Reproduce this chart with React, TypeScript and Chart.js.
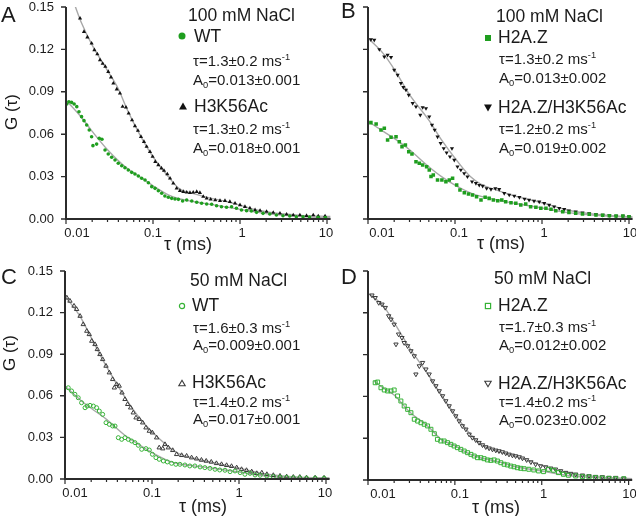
import React, { useEffect, useRef } from "react";
import { Chart, registerables } from "chart.js";

Chart.register(...registerables);

type Pt = [number, number];

const FONT = '"Liberation Sans", Arial, Helvetica, sans-serif';
const TEXT = "#1b1b1b";
const AXIS = "#2b2b2b";
const FIT = "#a8a8a8";
const GREEN = "#1f9e1f";
const GREEN_OPEN = "#36b236";
const BLACK = "#111111";
const DARK_OPEN = "#3a3a3a";

// ---- axes / ticks ----
const X_DECADES = [0.01, 0.1, 1, 10];
const X_DECADE_LABELS = ["0.01", "0.1", "1", "10"];
const X_MINOR_STEPS = [2, 3, 4, 5, 6, 7, 8, 9];
const Y_TICKS = [0, 0.03, 0.06, 0.09, 0.12, 0.15];
const Y_TICK_LABELS = ["0.00", "0.03", "0.06", "0.09", "0.12", "0.15"];
const X_MIN = 0.01;
const X_MAX = 11;
const Y_MIN = 0;
const Y_MAX = 0.15;

// ---- text ----
const PANEL_LETTERS = ["A", "B", "C", "D"];
const PANEL_TITLES = ["100 mM NaCl", "100 mM NaCl", "50 mM NaCl", "50 mM NaCl"];
const SERIES_NAMES = [
  ["WT", "H3K56Ac"],
  ["H2A.Z", "H2A.Z/H3K56Ac"],
  ["WT", "H3K56Ac"],
  ["H2A.Z", "H2A.Z/H3K56Ac"],
];
const TAU_TEXT = [
  ["1.3±0.2", "1.3±0.2"],
  ["1.3±0.2", "1.2±0.2"],
  ["1.6±0.3", "1.4±0.2"],
  ["1.7±0.3", "1.4±0.2"],
];
const A0_TEXT = [
  ["0.013±0.001", "0.018±0.001"],
  ["0.013±0.002", "0.019±0.002"],
  ["0.009±0.001", "0.017±0.001"],
  ["0.012±0.002", "0.023±0.002"],
];
const X_TITLE = "τ (ms)";
const Y_TITLE = "G (τ)";

// ---- data: [tau (ms), G(tau)] ----
const A_WT: Pt[] = [
  [0.0102, 0.0814], [0.0108, 0.083], [0.0116, 0.0825], [0.0124, 0.0814], [0.0133, 0.0795],
  [0.0141, 0.0759], [0.0151, 0.0724], [0.0161, 0.0696], [0.0173, 0.0665], [0.0185, 0.063],
  [0.0197, 0.0582], [0.0204, 0.0519], [0.0225, 0.053], [0.0241, 0.0571], [0.0259, 0.0564],
  [0.0281, 0.0488], [0.0306, 0.046], [0.0335, 0.0437], [0.0366, 0.0417], [0.0399, 0.0394],
  [0.0437, 0.0377], [0.0476, 0.0363], [0.052, 0.0347], [0.0569, 0.033], [0.062, 0.0318],
  [0.0678, 0.0304], [0.0741, 0.0288], [0.081, 0.0276], [0.0885, 0.0257], [0.0967, 0.0229],
  [0.1056, 0.0217], [0.1152, 0.02], [0.126, 0.0182], [0.137, 0.0163], [0.15, 0.0154],
  [0.164, 0.0146], [0.179, 0.0142], [0.196, 0.0139], [0.219, 0.0127], [0.244, 0.0134],
  [0.279, 0.0127], [0.318, 0.0118], [0.362, 0.0111], [0.414, 0.0106], [0.472, 0.0104],
  [0.538, 0.0094], [0.612, 0.0087], [0.7, 0.0083], [0.8, 0.0087], [0.91, 0.0076],
  [1.04, 0.0064], [1.19, 0.0059], [1.35, 0.0057], [1.55, 0.0047], [1.84, 0.004],
  [2.2, 0.0035], [2.62, 0.0028], [3.12, 0.0023], [3.73, 0.0021], [4.44, 0.0016],
  [5.3, 0.0016], [6.3, 0.0014], [7.9, 0.0012], [9.6, 0.001],
];
const A_H3K56AC: Pt[] = [
  [0.0145, 0.142], [0.0161, 0.1325], [0.0176, 0.1286], [0.0197, 0.1243], [0.0212, 0.1196],
  [0.0229, 0.1167], [0.0246, 0.1125], [0.0264, 0.11], [0.0283, 0.1078], [0.0306, 0.1042],
  [0.0329, 0.1003], [0.035, 0.096], [0.0383, 0.0918], [0.0417, 0.0889], [0.0447, 0.0795],
  [0.0489, 0.079], [0.0525, 0.0748], [0.0574, 0.07], [0.062, 0.0658], [0.0671, 0.0625],
  [0.0727, 0.0582], [0.0787, 0.0547], [0.0845, 0.0512], [0.0923, 0.0476], [0.099, 0.0441],
  [0.1063, 0.0405], [0.1152, 0.0382], [0.125, 0.0359], [0.1338, 0.0342], [0.146, 0.0318],
  [0.157, 0.0288], [0.171, 0.0252], [0.187, 0.0217], [0.204, 0.02], [0.223, 0.0193],
  [0.244, 0.0189], [0.266, 0.0186], [0.29, 0.0189], [0.318, 0.0193], [0.346, 0.0186],
  [0.378, 0.0158], [0.414, 0.0146], [0.46, 0.0139], [0.519, 0.0134], [0.589, 0.0129],
  [0.672, 0.0129], [0.765, 0.0122], [0.877, 0.0111], [1.0, 0.0099], [1.14, 0.0087],
  [1.3, 0.0076], [1.49, 0.0064], [1.7, 0.0059], [2.02, 0.0052], [2.41, 0.0045],
  [2.88, 0.004], [3.43, 0.0033], [4.09, 0.0028], [4.88, 0.0028], [5.82, 0.0023],
  [6.95, 0.0028], [7.93, 0.0021], [9.5, 0.002],
];
const A_WT_FIT: Pt[] = [
  [0.01, 0.084], [0.015, 0.072], [0.02, 0.062], [0.03, 0.049], [0.05, 0.036], [0.07, 0.03],
  [0.1, 0.0235], [0.15, 0.017], [0.2, 0.0143], [0.3, 0.0122], [0.5, 0.01], [1, 0.0068],
  [2, 0.0038], [5, 0.0017], [11, 0.0009],
];
const A_H3K56AC_FIT: Pt[] = [
  [0.0125, 0.152], [0.015, 0.139], [0.02, 0.123], [0.03, 0.105], [0.04, 0.092], [0.05, 0.078],
  [0.07, 0.06], [0.1, 0.044], [0.15, 0.03], [0.2, 0.0215], [0.3, 0.0178], [0.5, 0.0142],
  [0.7, 0.0124], [1, 0.0098], [1.5, 0.0066], [2, 0.0052], [3, 0.0037], [5, 0.0026], [11, 0.0018],
];

const B_H2AZ: Pt[] = [
  [0.0108, 0.0682], [0.0124, 0.0672], [0.0141, 0.063], [0.0154, 0.0642], [0.0168, 0.0559],
  [0.0184, 0.0578], [0.021, 0.0582], [0.0229, 0.0547], [0.0246, 0.0512], [0.0269, 0.0524],
  [0.0294, 0.0476], [0.032, 0.046], [0.0356, 0.0405], [0.0389, 0.0394], [0.0425, 0.0382],
  [0.0472, 0.037], [0.0506, 0.0347], [0.053, 0.03], [0.0563, 0.0311], [0.063, 0.0276],
  [0.0707, 0.0276], [0.0786, 0.0264], [0.086, 0.0276], [0.0938, 0.0288], [0.1045, 0.024],
  [0.114, 0.0205], [0.128, 0.0186], [0.143, 0.0177], [0.159, 0.017], [0.177, 0.0158],
  [0.199, 0.0134], [0.222, 0.0154], [0.247, 0.0146], [0.276, 0.0134], [0.31, 0.0129],
  [0.345, 0.0134], [0.382, 0.0122], [0.44, 0.0115], [0.5, 0.0111], [0.57, 0.0099],
  [0.65, 0.0106], [0.74, 0.0087], [0.85, 0.0083], [0.97, 0.0076], [1.11, 0.0076],
  [1.27, 0.0069], [1.44, 0.0059], [1.73, 0.0052], [2.04, 0.0047], [2.44, 0.004],
  [2.92, 0.0035], [3.49, 0.0033], [4.17, 0.0028], [4.98, 0.0026], [5.95, 0.0023],
  [7.1, 0.0021], [8.5, 0.0021], [10, 0.0016],
];
const B_H2AZ_H3K56AC: Pt[] = [
  [0.0108, 0.127], [0.0118, 0.1266], [0.0135, 0.12], [0.0154, 0.1148], [0.0168, 0.116],
  [0.0184, 0.1144], [0.02, 0.1054], [0.0219, 0.1019], [0.0239, 0.096], [0.0255, 0.0932],
  [0.0273, 0.0913], [0.0294, 0.0877], [0.0326, 0.0819], [0.0356, 0.0795], [0.0399, 0.0736],
  [0.0425, 0.079], [0.0464, 0.0783], [0.0506, 0.0724], [0.0544, 0.0665], [0.0584, 0.063],
  [0.063, 0.0582], [0.0684, 0.0536], [0.0742, 0.05], [0.0801, 0.0469], [0.0876, 0.0441],
  [0.0923, 0.05], [0.0981, 0.0417], [0.1068, 0.037], [0.1168, 0.0347], [0.1275, 0.0323],
  [0.139, 0.03], [0.157, 0.0264], [0.174, 0.0253], [0.19, 0.024], [0.208, 0.0233],
  [0.231, 0.0217], [0.259, 0.021], [0.291, 0.0217], [0.322, 0.021], [0.368, 0.0182],
  [0.42, 0.017], [0.48, 0.0163], [0.55, 0.0154], [0.63, 0.0142], [0.71, 0.0134],
  [0.81, 0.0127], [0.93, 0.0122], [1.06, 0.0111], [1.21, 0.0099], [1.38, 0.0087],
  [1.58, 0.0076], [1.8, 0.0069], [2.04, 0.0059], [2.44, 0.0052], [2.92, 0.0045],
  [3.49, 0.004], [4.17, 0.0033], [4.98, 0.0028], [5.95, 0.0026], [7.12, 0.0021],
  [8.5, 0.0021], [10, 0.0016],
];
const B_H2AZ_FIT: Pt[] = [
  [0.01, 0.069], [0.015, 0.062], [0.02, 0.057], [0.03, 0.049], [0.05, 0.037], [0.07, 0.03],
  [0.1, 0.024], [0.15, 0.0185], [0.2, 0.016], [0.3, 0.0135], [0.5, 0.011], [1, 0.0078],
  [2, 0.0045], [5, 0.0022], [11, 0.0012],
];
const B_H2AZ_H3K56AC_FIT: Pt[] = [
  [0.01, 0.128], [0.015, 0.117], [0.02, 0.106], [0.03, 0.088], [0.05, 0.07], [0.07, 0.056],
  [0.1, 0.043], [0.15, 0.03], [0.2, 0.0245], [0.3, 0.0205], [0.5, 0.016], [1, 0.0115],
  [2, 0.0062], [5, 0.0028], [11, 0.0015],
];

const C_WT: Pt[] = [
  [0.0109, 0.0658], [0.0119, 0.0635], [0.013, 0.0611], [0.0142, 0.0586], [0.0155, 0.055],
  [0.017, 0.0514], [0.018, 0.0526], [0.0194, 0.0531], [0.0212, 0.0526], [0.0231, 0.0514],
  [0.0248, 0.049], [0.0271, 0.0466], [0.0296, 0.0406], [0.0323, 0.0394], [0.0353, 0.0382],
  [0.0376, 0.0382], [0.041, 0.0298], [0.0448, 0.0286], [0.0489, 0.0298], [0.0534, 0.0286],
  [0.0583, 0.0274], [0.0637, 0.0262], [0.0696, 0.0243], [0.0761, 0.0214], [0.0852, 0.0219],
  [0.0931, 0.0209], [0.101, 0.0178], [0.111, 0.0154], [0.121, 0.0142], [0.135, 0.013],
  [0.15, 0.0123], [0.168, 0.0113], [0.188, 0.0106], [0.209, 0.0106], [0.239, 0.0101],
  [0.272, 0.0094], [0.311, 0.0094], [0.357, 0.0087], [0.405, 0.0082], [0.463, 0.0077],
  [0.53, 0.007], [0.6, 0.0065], [0.69, 0.0063], [0.79, 0.0053], [0.9, 0.0058],
  [1.03, 0.0046], [1.17, 0.0034], [1.34, 0.0041], [1.53, 0.0029], [1.75, 0.0027],
  [2.09, 0.0022], [2.48, 0.0017], [2.96, 0.0014], [3.53, 0.0012], [4.21, 0.0009],
  [5.0, 0.0009], [5.97, 0.0007], [7.5, 0.0007], [9.5, 0.0006],
];
const C_H3K56AC: Pt[] = [
  [0.0105, 0.1307], [0.0114, 0.1284], [0.0127, 0.1248], [0.0136, 0.1224], [0.0149, 0.1175],
  [0.0162, 0.1115], [0.0178, 0.1067], [0.019, 0.1043], [0.0203, 0.0995], [0.0221, 0.0971],
  [0.0235, 0.0935], [0.0252, 0.0899], [0.0271, 0.0863], [0.0296, 0.0815], [0.0323, 0.0767],
  [0.0353, 0.0719], [0.0369, 0.0658], [0.0392, 0.0683], [0.042, 0.0671], [0.0452, 0.0622],
  [0.0489, 0.0575], [0.0525, 0.0539], [0.0568, 0.0514], [0.0609, 0.0478], [0.0655, 0.0442],
  [0.0714, 0.0431], [0.0781, 0.0406], [0.0852, 0.037], [0.0931, 0.0346], [0.101, 0.0334],
  [0.113, 0.0298], [0.121, 0.0226], [0.133, 0.0219], [0.141, 0.025], [0.154, 0.0226],
  [0.173, 0.0207], [0.192, 0.0178], [0.219, 0.0171], [0.25, 0.0166], [0.285, 0.0154],
  [0.325, 0.0146], [0.37, 0.0137], [0.42, 0.013], [0.48, 0.0123], [0.55, 0.0113],
  [0.63, 0.0106], [0.72, 0.0099], [0.82, 0.0092], [0.94, 0.0082], [1.07, 0.007],
  [1.22, 0.0063], [1.4, 0.0053], [1.6, 0.0041], [1.83, 0.0045], [2.09, 0.0034],
  [2.48, 0.0027], [2.96, 0.0022], [3.53, 0.0017], [4.21, 0.0014], [5.0, 0.0014],
  [5.97, 0.0009], [7.5, 0.0009], [9.5, 0.0008],
];
const C_WT_FIT: Pt[] = [
  [0.01, 0.067], [0.015, 0.057], [0.02, 0.051], [0.03, 0.043], [0.05, 0.031], [0.07, 0.025],
  [0.1, 0.019], [0.15, 0.0135], [0.2, 0.011], [0.3, 0.0095], [0.5, 0.0078], [1, 0.005],
  [2, 0.0022], [5, 0.0009], [11, 0.0005],
];
const C_H3K56AC_FIT: Pt[] = [
  [0.01, 0.132], [0.015, 0.117], [0.02, 0.102], [0.03, 0.081], [0.05, 0.058], [0.07, 0.045],
  [0.1, 0.034], [0.15, 0.024], [0.2, 0.0185], [0.3, 0.015], [0.5, 0.012], [1, 0.0078],
  [2, 0.0036], [5, 0.0013], [11, 0.0007],
];

const D_H2AZ: Pt[] = [
  [0.0121, 0.0698], [0.0129, 0.0703], [0.0141, 0.0662], [0.0154, 0.0646], [0.0168, 0.0639],
  [0.0184, 0.0639], [0.02, 0.0646], [0.0219, 0.0603], [0.0239, 0.0567], [0.0261, 0.0531],
  [0.0286, 0.0507], [0.0312, 0.0483], [0.0341, 0.0436], [0.0373, 0.0423], [0.0407, 0.0411],
  [0.0444, 0.04], [0.0485, 0.0388], [0.053, 0.0364], [0.058, 0.0332], [0.063, 0.0292],
  [0.0689, 0.028], [0.0752, 0.028], [0.0822, 0.0268], [0.0898, 0.0256], [0.098, 0.0244],
  [0.107, 0.0232], [0.117, 0.022], [0.128, 0.0208], [0.14, 0.0196], [0.153, 0.0184],
  [0.167, 0.0172], [0.182, 0.016], [0.199, 0.016], [0.217, 0.0153], [0.237, 0.0144],
  [0.259, 0.0141], [0.283, 0.0144], [0.309, 0.0136], [0.338, 0.0124], [0.369, 0.0113],
  [0.403, 0.0108], [0.44, 0.01], [0.48, 0.0095], [0.525, 0.0088], [0.573, 0.0084],
  [0.626, 0.0081], [0.71, 0.0077], [0.81, 0.0072], [0.92, 0.0065], [1.05, 0.006],
  [1.2, 0.0077], [1.37, 0.007], [1.56, 0.0053], [1.78, 0.0041], [2.03, 0.0034],
  [2.46, 0.0029], [2.94, 0.0024], [3.5, 0.0022], [4.17, 0.0017], [4.98, 0.0014],
  [5.94, 0.0012], [7.1, 0.0009], [8.8, 0.0009],
];
const D_H2AZ_H3K56AC: Pt[] = [
  [0.0111, 0.1326], [0.0121, 0.1308], [0.0133, 0.1272], [0.0145, 0.1261], [0.0158, 0.1237],
  [0.0173, 0.1177], [0.0184, 0.1153], [0.02, 0.1117], [0.021, 0.0974], [0.0225, 0.1046],
  [0.0246, 0.1021], [0.0261, 0.0985], [0.0286, 0.0962], [0.0312, 0.0926], [0.0341, 0.089],
  [0.0356, 0.0759], [0.039, 0.0818], [0.0425, 0.0842], [0.0464, 0.0795], [0.0506, 0.0759],
  [0.0554, 0.071], [0.0605, 0.0675], [0.0661, 0.0639], [0.0722, 0.0603], [0.0787, 0.0567],
  [0.086, 0.0531], [0.094, 0.0495], [0.1025, 0.0459], [0.112, 0.0423], [0.122, 0.0388],
  [0.134, 0.0364], [0.146, 0.0328], [0.159, 0.0304], [0.174, 0.0287], [0.19, 0.0268],
  [0.208, 0.0251], [0.227, 0.0237], [0.248, 0.0228], [0.271, 0.022], [0.296, 0.0213],
  [0.322, 0.0208], [0.352, 0.0201], [0.385, 0.0192], [0.42, 0.0184], [0.46, 0.0177],
  [0.5, 0.0172], [0.55, 0.0165], [0.6, 0.0156], [0.67, 0.0144], [0.75, 0.0129],
  [0.85, 0.0113], [0.97, 0.01], [1.11, 0.0093], [1.27, 0.0084], [1.44, 0.0077],
  [1.65, 0.0065], [1.89, 0.0053], [2.16, 0.0046], [2.46, 0.0041], [2.94, 0.0034],
  [3.5, 0.0029], [4.17, 0.0024], [4.98, 0.0022], [5.94, 0.0017], [7.1, 0.0017], [8.8, 0.0012],
];
const D_H2AZ_FIT: Pt[] = [
  [0.0118, 0.071], [0.015, 0.066], [0.02, 0.061], [0.03, 0.049], [0.05, 0.038], [0.07, 0.029],
  [0.1, 0.0245], [0.15, 0.0185], [0.2, 0.0158], [0.3, 0.0135], [0.5, 0.0095], [1, 0.0065],
  [2, 0.0032], [5, 0.0014], [11, 0.0008],
];
const D_H2AZ_H3K56AC_FIT: Pt[] = [
  [0.01, 0.134], [0.015, 0.125], [0.02, 0.113], [0.03, 0.095], [0.05, 0.075], [0.07, 0.061],
  [0.1, 0.047], [0.15, 0.033], [0.2, 0.0255], [0.3, 0.021], [0.5, 0.017], [1, 0.0105],
  [2, 0.005], [5, 0.002], [11, 0.001],
];

// ---- styles & layout ----
type Kind = "circle" | "triangle" | "rect";
interface SeriesDef {
  data: Pt[];
  fit: Pt[];
  kind: Kind;
  down: boolean;
  open: boolean;
  color: string;
  r: number;
}
interface PanelDef {
  idx: number;
  box: { x: number; y: number; w: number; h: number };
  pad: { left: number; top: number; right: number; bottom: number };
  yLabels: boolean;
  xLabelDx: number[];
  series: SeriesDef[];
  letter: { x: number; y: number };
  title: { x: number; y: number };
  xTitle: { x: number; y: number };
  yTitle?: { x: number; y: number };
  legend: { mx: number; my: number; nx: number; tx: number; ny: number; ty: number; ay: number }[];
}

const PANELS: PanelDef[] = [
  {
    idx: 0,
    box: { x: 0, y: 0, w: 336, h: 258 },
    pad: { left: 66, top: 7, right: 5.4, bottom: 39 },
    yLabels: true,
    xLabelDx: [11, 0, 2, -1],
    series: [
      { data: A_WT, fit: A_WT_FIT, kind: "circle", down: false, open: false, color: GREEN, r: 1.8 },
      { data: A_H3K56AC, fit: A_H3K56AC_FIT, kind: "triangle", down: false, open: false, color: BLACK, r: 2.4 },
    ],
    letter: { x: 1, y: 15 },
    title: { x: 188, y: 16 },
    xTitle: { x: 188, y: 244 },
    yTitle: { x: 11, y: 112 },
    legend: [
      { mx: 182, my: 36, nx: 194, tx: 193, ny: 37, ty: 60, ay: 79 },
      { mx: 183, my: 106, nx: 194, tx: 193, ny: 107, ty: 128, ay: 147 },
    ],
  },
  {
    idx: 1,
    box: { x: 302, y: 0, w: 334, h: 258 },
    pad: { left: 66, top: 7, right: 3.4, bottom: 39 },
    yLabels: false,
    xLabelDx: [14, 4, 2, 1],
    series: [
      { data: B_H2AZ, fit: B_H2AZ_FIT, kind: "rect", down: false, open: false, color: GREEN, r: 2.5 },
      { data: B_H2AZ_H3K56AC, fit: B_H2AZ_H3K56AC_FIT, kind: "triangle", down: true, open: false, color: BLACK, r: 2.4 },
    ],
    letter: { x: 341, y: 11 },
    title: { x: 496, y: 17 },
    xTitle: { x: 501, y: 243 },
    legend: [
      { mx: 488, my: 38, nx: 498, tx: 499, ny: 38, ty: 58, ay: 77 },
      { mx: 488, my: 108, nx: 498, tx: 499, ny: 108, ty: 128, ay: 147 },
    ],
  },
  {
    idx: 2,
    box: { x: 0, y: 258, w: 336, h: 258 },
    pad: { left: 65, top: 13, right: 6.4, bottom: 37 },
    yLabels: true,
    xLabelDx: [10, 0, 0, -1],
    series: [
      { data: C_WT, fit: C_WT_FIT, kind: "circle", down: false, open: true, color: GREEN_OPEN, r: 2 },
      { data: C_H3K56AC, fit: C_H3K56AC_FIT, kind: "triangle", down: false, open: true, color: DARK_OPEN, r: 2.5 },
    ],
    letter: { x: 1, y: 277 },
    title: { x: 190, y: 281 },
    xTitle: { x: 203, y: 506 },
    yTitle: { x: 9, y: 353 },
    legend: [
      { mx: 182, my: 306, nx: 192, tx: 193, ny: 306, ty: 327, ay: 344 },
      { mx: 182, my: 383, nx: 192, tx: 193, ny: 383, ty: 401, ay: 418 },
    ],
  },
  {
    idx: 3,
    box: { x: 302, y: 258, w: 334, h: 258 },
    pad: { left: 66, top: 13, right: 3.4, bottom: 36 },
    yLabels: false,
    xLabelDx: [15, 5, 2, 1],
    series: [
      { data: D_H2AZ, fit: D_H2AZ_FIT, kind: "rect", down: false, open: true, color: GREEN_OPEN, r: 2.8 },
      { data: D_H2AZ_H3K56AC, fit: D_H2AZ_H3K56AC_FIT, kind: "triangle", down: true, open: true, color: DARK_OPEN, r: 2.5 },
    ],
    letter: { x: 341, y: 277 },
    title: { x: 494, y: 279 },
    xTitle: { x: 496, y: 507 },
    legend: [
      { mx: 488, my: 306, nx: 498, tx: 499, ny: 306, ty: 326, ay: 344 },
      { mx: 488, my: 384, nx: 498, tx: 499, ny: 384, ty: 401, ay: 419 },
    ],
  },
];

function axesPlugin(p: PanelDef) {
  return {
    id: "customAxes" + p.idx,
    afterDraw(chart: any) {
      const { ctx, chartArea: a } = chart;
      const xs = chart.scales.x;
      const ys = chart.scales.y;
      ctx.save();
      ctx.strokeStyle = AXIS;
      // y ticks
      ctx.lineWidth = 1.4;
      ctx.beginPath();
      Y_TICKS.forEach((v) => {
        const py = ys.getPixelForValue(v);
        ctx.moveTo(a.left, py);
        ctx.lineTo(a.left - 5, py);
      });
      ctx.stroke();
      // x ticks: decades long, minors short
      ctx.lineWidth = 1.2;
      ctx.beginPath();
      X_DECADES.forEach((d, i) => {
        const px = xs.getPixelForValue(d);
        ctx.moveTo(px, a.bottom);
        ctx.lineTo(px, a.bottom + 5);
        if (i < X_DECADES.length - 1) {
          X_MINOR_STEPS.forEach((m) => {
            const mx = xs.getPixelForValue(d * m);
            ctx.moveTo(mx, a.bottom);
            ctx.lineTo(mx, a.bottom + 3);
          });
        }
      });
      ctx.stroke();
      // axis lines
      ctx.lineWidth = 2;
      ctx.beginPath();
      ctx.moveTo(a.left, ys.getPixelForValue(Y_MAX));
      ctx.lineTo(a.left, a.bottom);
      ctx.lineTo(a.right, a.bottom);
      ctx.stroke();
      // labels
      ctx.fillStyle = TEXT;
      ctx.font = `13px ${FONT}`;
      ctx.textBaseline = "middle";
      ctx.textAlign = "center";
      X_DECADES.forEach((d, i) => {
        const px = xs.getPixelForValue(d) + (p.xLabelDx[i] || 0);
        ctx.fillText(X_DECADE_LABELS[i], px, a.bottom + 14);
      });
      if (p.yLabels) {
        ctx.textAlign = "right";
        Y_TICKS.forEach((v, i) => {
          ctx.fillText(Y_TICK_LABELS[i], a.left - 12, ys.getPixelForValue(v));
        });
      }
      ctx.restore();
    },
  };
}

function PanelChart({ p }: { p: PanelDef }) {
  const ref = useRef<HTMLCanvasElement>(null);
  useEffect(() => {
    if (!ref.current) return;
    const datasets: any[] = [];
    p.series.forEach((s) => {
      datasets.push({
        type: "scatter",
        data: s.data.map(([x, y]) => ({ x, y })),
        pointStyle: s.kind,
        pointRotation: s.down ? 180 : 0,
        pointRadius: s.r,
        pointHoverRadius: s.r,
        pointBackgroundColor: s.open ? "rgba(255,255,255,0)" : s.color,
        pointBorderColor: s.color,
        pointBorderWidth: s.open ? 1 : 0,
        showLine: false,
      });
    });
    p.series.forEach((s) => {
      datasets.push({
        type: "scatter",
        data: s.fit.map(([x, y]) => ({ x, y })),
        showLine: true,
        borderColor: FIT,
        borderWidth: 1.4,
        pointRadius: 0,
        pointHoverRadius: 0,
        cubicInterpolationMode: "monotone",
        fill: false,
        clip: 0,
      });
    });
    const chart = new Chart(ref.current, {
      type: "scatter",
      data: { datasets },
      options: {
        animation: false,
        responsive: false,
        maintainAspectRatio: false,
        events: [],
        layout: { padding: p.pad },
        plugins: { legend: { display: false }, tooltip: { enabled: false }, title: { display: false } },
        scales: {
          x: { type: "logarithmic", min: X_MIN, max: X_MAX, display: false },
          y: { type: "linear", min: Y_MIN, max: Y_MAX, display: false },
        },
      },
      plugins: [axesPlugin(p)],
    } as any);
    return () => chart.destroy();
  }, [p]);
  return (
    <canvas
      ref={ref}
      width={p.box.w}
      height={p.box.h}
      style={{ position: "absolute", left: p.box.x, top: p.box.y, width: p.box.w, height: p.box.h }}
    />
  );
}

function Txt({ x, y, fs, children }: { x: number; y: number; fs: number; children: any }) {
  return (
    <div
      style={{
        position: "absolute",
        left: x,
        top: y - 0.49 * fs,
        fontSize: fs,
        lineHeight: 1,
        fontFamily: FONT,
        color: TEXT,
        whiteSpace: "nowrap",
      }}
    >
      {children}
    </div>
  );
}

const subStyle: React.CSSProperties = { fontSize: "0.62em", lineHeight: 0, verticalAlign: "baseline", position: "relative", top: "0.32em" };
const supStyle: React.CSSProperties = { fontSize: "0.62em", lineHeight: 0, verticalAlign: "baseline", position: "relative", top: "-0.62em" };

function Marker({ cx, cy, s }: { cx: number; cy: number; s: SeriesDef }) {
  const size = 10;
  const c = size / 2;
  const fill = s.open ? "none" : s.color;
  const stroke = s.open ? s.color : "none";
  let shape: any = null;
  if (s.kind === "circle") {
    const r = s.open ? 2.6 : 3.5;
    shape = <circle cx={c} cy={c} r={r} fill={fill} stroke={stroke} strokeWidth={1.2} />;
  } else if (s.kind === "rect") {
    const h = s.open ? 2.6 : 3;
    shape = <rect x={c - h} y={c - h} width={2 * h} height={2 * h} fill={fill} stroke={stroke} strokeWidth={1.2} />;
  } else {
    const h = s.open ? 3.2 : 4;
    const pts = s.down
      ? `${c - h},${c - h * 0.85} ${c + h},${c - h * 0.85} ${c},${c + h * 0.85}`
      : `${c - h},${c + h * 0.85} ${c + h},${c + h * 0.85} ${c},${c - h * 0.85}`;
    shape = <polygon points={pts} fill={fill} stroke={stroke} strokeWidth={1.1} />;
  }
  return (
    <svg width={size} height={size} style={{ position: "absolute", left: cx - c, top: cy - c }}>
      {shape}
    </svg>
  );
}

function Annotations({ p }: { p: PanelDef }) {
  const i = p.idx;
  return (
    <>
      <Txt x={p.letter.x} y={p.letter.y} fs={22}>{PANEL_LETTERS[i]}</Txt>
      <Txt x={p.title.x} y={p.title.y} fs={17.5}>{PANEL_TITLES[i]}</Txt>
      {p.legend.map((l, k) => (
        <React.Fragment key={k}>
          <Marker cx={l.mx} cy={l.my} s={p.series[k]} />
          <Txt x={l.nx} y={l.ny} fs={17.5}>{SERIES_NAMES[i][k]}</Txt>
          <Txt x={l.tx} y={l.ty} fs={15}>
            τ={TAU_TEXT[i][k]} ms<span style={supStyle}>-1</span>
          </Txt>
          <Txt x={l.tx} y={l.ay} fs={15}>
            A<span style={subStyle}>0</span>={A0_TEXT[i][k]}
          </Txt>
        </React.Fragment>
      ))}
      <div
        style={{
          position: "absolute",
          left: p.xTitle.x,
          top: p.xTitle.y,
          transform: "translate(-50%, -50%)",
          fontSize: 18,
          lineHeight: 1,
          fontFamily: FONT,
          color: TEXT,
          whiteSpace: "nowrap",
        }}
      >
        {X_TITLE}
      </div>
      {p.yTitle && (
        <div
          style={{
            position: "absolute",
            left: p.yTitle.x,
            top: p.yTitle.y,
            transform: "translate(-50%, -50%) rotate(-90deg)",
            fontSize: 17,
            lineHeight: 1,
            fontFamily: FONT,
            color: TEXT,
            whiteSpace: "nowrap",
          }}
        >
          {Y_TITLE}
        </div>
      )}
    </>
  );
}

export default function App() {
  return (
    <div
      style={{
        position: "fixed",
        left: 0,
        top: 0,
        width: 636,
        height: 516,
        background: "#ffffff",
        overflow: "hidden",
      }}
    >
      {PANELS.map((p) => (
        <PanelChart key={"c" + p.idx} p={p} />
      ))}
      {PANELS.map((p) => (
        <Annotations key={"a" + p.idx} p={p} />
      ))}
    </div>
  );
}
